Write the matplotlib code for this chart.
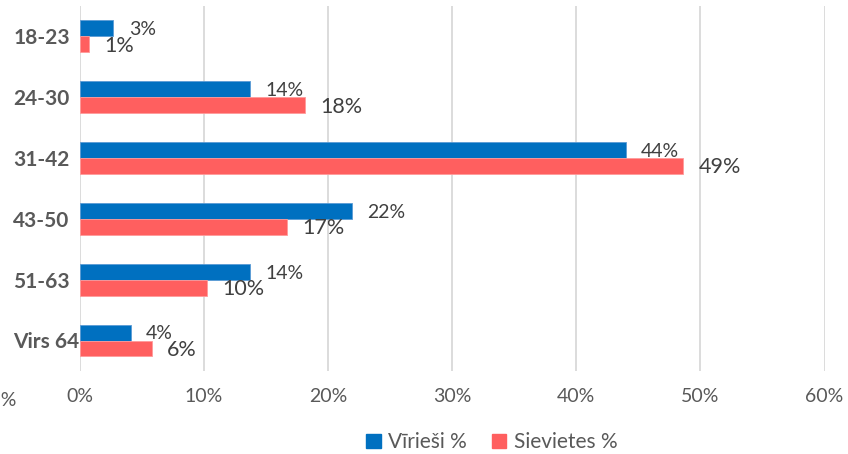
import numpy as np
import matplotlib.pyplot as plt
from matplotlib.patches import Patch

# --- datos ---
grupos = ['18-23', '24-30', '31-42', '43-50', '51-63', 'Virs 64']
virieši = [2.7, 13.7, 44.0, 21.9, 13.7, 4.1]
sievietes = [0.7, 18.1, 48.6, 16.7, 10.2, 5.8]
ticks_x = [0, 10, 20, 30, 40, 50, 60]

azul = '#0070C0'
rojo = '#FF5F5F'
gris_txt = '#595959'
gris_lbl = '#404040'

plt.rcParams['font.family'] = ['Lato', 'DejaVu Sans']

fig = plt.figure(figsize=(8.48, 4.54), dpi=100)
ax = fig.add_axes([0.0943, 0.183, 0.878, 0.804])

y = np.arange(len(grupos))
h = 0.263
ax.barh(y - h / 2, virieši, height=h, color=azul, edgecolor='#5B9BD5', linewidth=0.6, zorder=3)
ax.barh(y + h / 2, sievietes, height=h, color=rojo, edgecolor='#FF9A9A', linewidth=0.6, zorder=3)

for yi, v in zip(y, virieši):
    ax.annotate(f"{v:.0f}%", (v, yi - h / 2), xytext=(11, -1), textcoords='offset points',
                ha='left', va='center', fontsize=14, color=gris_lbl, zorder=4)
for yi, v in zip(y, sievietes):
    ax.annotate(f"{v:.0f}%", (v, yi + h / 2), xytext=(11, -1), textcoords='offset points',
                ha='left', va='center', fontsize=15.5, color=gris_lbl, zorder=4)

ax.set_xlim(0, 60)
ax.set_ylim(len(grupos) - 0.5, -0.5)
ax.set_xticks(ticks_x)
ax.set_xticklabels([f"{t}%" for t in ticks_x])
ax.set_yticks(y)
ax.set_yticklabels(grupos, fontweight='bold', ha='left', va='center_baseline')
ax.tick_params(axis='x', length=0, pad=12, labelsize=14, labelcolor=gris_txt)
ax.tick_params(axis='y', length=0, pad=48, labelsize=15, labelcolor=gris_txt)
ax.grid(axis='x', color='#D9D9D9', linewidth=1.3, zorder=0)
for s in ax.spines.values():
    s.set_visible(False)

# trozo de etiqueta cortado en el borde izquierdo
fig.text(-0.02, 0.118, '-5%', fontsize=14, color=gris_txt, ha='left', va='center')

handles = [Patch(color=azul), Patch(color=rojo)]
fig.legend(handles, ['Vīrieši %', 'Sievietes %'], loc='center', bbox_to_anchor=(0.58, 0.026),
           ncol=2, frameon=False, fontsize=15, handlelength=0.7, handleheight=0.7,
           handletextpad=0.35, columnspacing=1.2, labelcolor=gris_txt)

fig.savefig('out.png', dpi=100)
